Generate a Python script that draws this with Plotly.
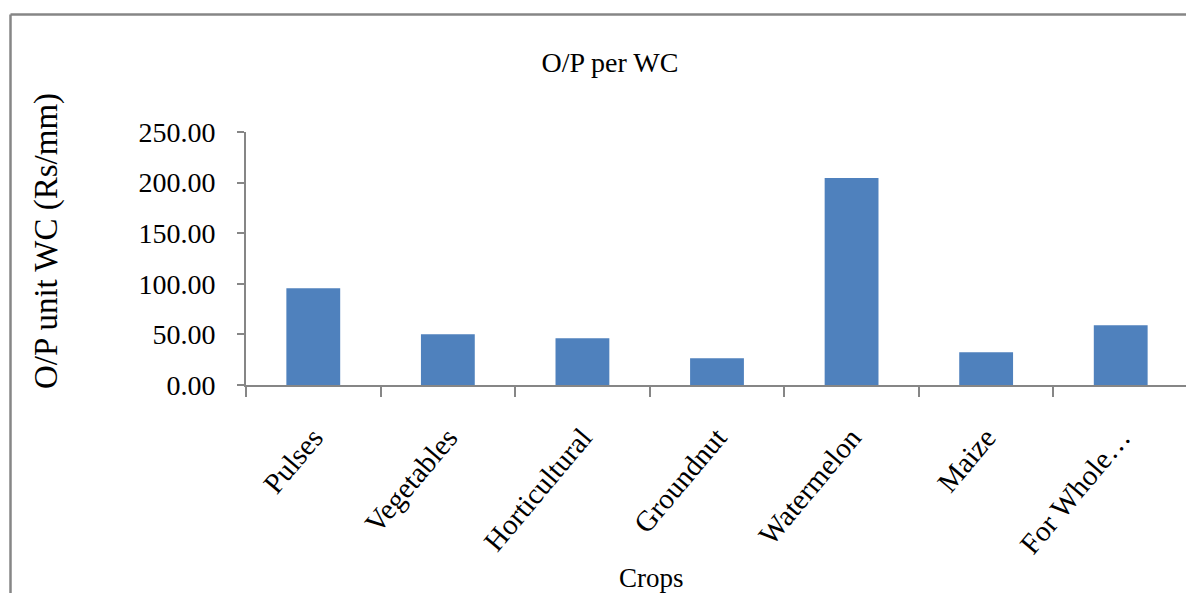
import plotly.graph_objects as go

categories = ["Pulses", "Vegetables", "Horticultural", "Groundnut", "Watermelon", "Maize", "For Whole…"]
values = [95.7, 50.2, 46.2, 26.4, 204.5, 32.4, 59.0]

title_text = "O/P per WC"
y_title = "O/P unit WC (Rs/mm)"
x_title = "Crops"

OFF = 8  # browser body margin
W, H = 1194 - OFF, 593 - OFF
L, R, T, B = 246 - OFF, 6, 132 - OFF, 208
pw, ph = W - L - R, H - T - B

def px(x):
    return (x - OFF - L) / pw

def py(y):
    return (H - B - (y - OFF)) / ph

font = "Liberation Serif, Times New Roman, serif"
gray = "#868686"

fig = go.Figure(go.Bar(x=categories, y=values, marker=dict(color="#4F81BD", line=dict(width=0))))

fig.update_layout(
    width=W, height=H,
    margin=dict(l=L, r=R, t=T, b=B, autoexpand=False),
    paper_bgcolor="white", plot_bgcolor="white",
    bargap=0.6,
    showlegend=False,
    font=dict(family=font, color="black"),
    title=dict(text=title_text, x=(610 - OFF) / W, xref="container", y=1 - (62 - OFF) / H, yref="container",
               xanchor="center", yanchor="middle", font=dict(size=28, family=font, color="black")),
)

fig.update_yaxes(
    range=[0, 250], dtick=50, tickformat=".2f",
    showgrid=False, zeroline=False,
    showline=True, linecolor=gray, linewidth=2,
    ticks="outside", ticklen=7, tickcolor=gray, tickwidth=2,
    ticklabelstandoff=16,
    tickfont=dict(size=28, family=font, color="black"),
)
fig.update_xaxes(
    showgrid=False, showline=True, linecolor=gray, linewidth=2, mirror=False,
    ticks="outside", ticklen=10, tickcolor=gray, tickwidth=1.5,
    tickson="boundaries", tickangle=-50,
    ticklabelstandoff=22,
    tickfont=dict(size=29, family=font, color="black"),
)

fig.add_annotation(text=y_title, x=px(46), y=py(241), xref="paper", yref="paper",
                   textangle=-90, showarrow=False, xanchor="center", yanchor="middle",
                   font=dict(size=33, family=font, color="black"))
fig.add_annotation(text=x_title, x=px(651), y=py(578), xref="paper", yref="paper",
                   showarrow=False, xanchor="center", yanchor="middle",
                   font=dict(size=27, family=font, color="black"))

# outer chart frame (top and left edges visible)
fig.add_shape(type="line", xref="paper", yref="paper", x0=px(10.5), x1=px(1200), y0=py(14.5), y1=py(14.5),
              line=dict(color=gray, width=2.5))
fig.add_shape(type="line", xref="paper", yref="paper", x0=px(10.5), x1=px(10.5), y0=py(14.5), y1=py(600),
              line=dict(color=gray, width=2.5))
# closing boundary tick at the right end of the category axis
fig.add_shape(type="line", xref="paper", yref="paper", x0=1, x1=1, y0=0, y1=py(395),
              line=dict(color=gray, width=1.5))

fig.write_html("out.html")
